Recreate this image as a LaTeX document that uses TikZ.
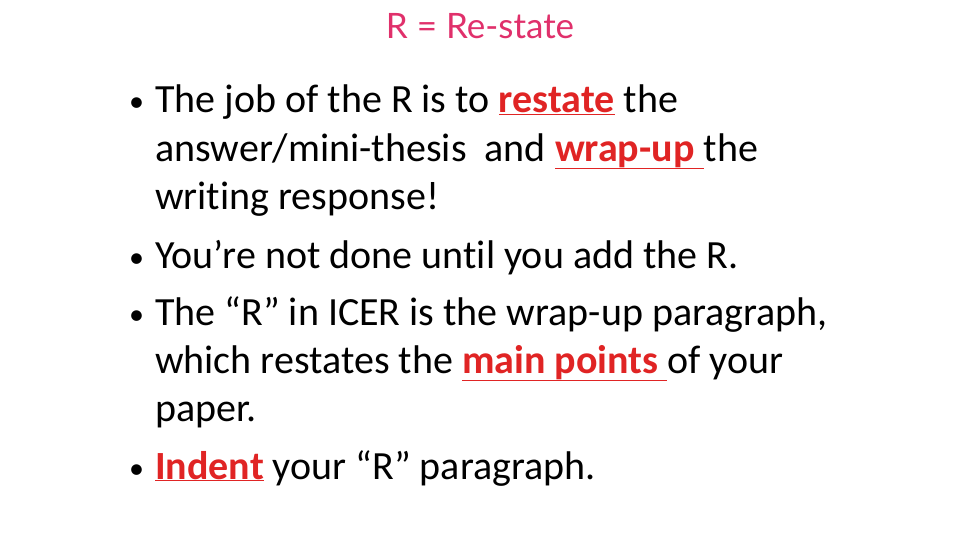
\documentclass[tikz,border=0pt]{standalone}
\usepackage{fontspec}
\setmainfont{Carlito}[RawFeature=-liga]
\newfontfamily\titlefont{Lato}
\definecolor{titlepink}{HTML}{E0306B}
\definecolor{hired}{HTML}{E02424}
\newcommand{\hl}[1]{\textcolor{hired}{\textbf{\underline{#1}}}}
\begin{document}
\begin{tikzpicture}[x=1pt,y=1pt,
  ln/.style={anchor=base west,inner sep=0pt,font=\fontsize{40}{48}\selectfont},
  bul/.style={anchor=base west,inner sep=0pt,font=\fontsize{30}{36}\selectfont}]
\useasboundingbox (0,0) rectangle (960,-540);
\node[anchor=base,inner sep=0pt,text=titlepink,font=\titlefont\fontsize{35}{42}\selectfont] (title) at (480,-39) {R = Re-state};
\node[bul] (b1) at (129,-112) {•};
\node[ln] (l1) at (155,-113) {The job of the R is to \hl{restate} the};
\node[ln] (l2) at (155,-161) {answer/mini-thesis\ \ and \hl{wrap-up\ }the};
\node[ln] (l3) at (155,-209) {writing response!};
\node[bul] (b2) at (129,-267) {•};
\node[ln] (l4) at (155,-268) {You’re not done until you add the R.};
\node[bul] (b3) at (129,-324) {•};
\node[ln] (l5) at (155,-325) {The “R” in ICER is the wrap-up paragraph,};
\node[ln] (l6) at (155,-373) {which restates the \hl{main points\ }of your};
\node[ln] (l7) at (155,-421) {paper.};
\node[bul] (b4) at (129,-478) {•};
\node[ln] (l8) at (155,-479) {\hl{Indent} your “R” paragraph.};
\end{tikzpicture}
\end{document}
